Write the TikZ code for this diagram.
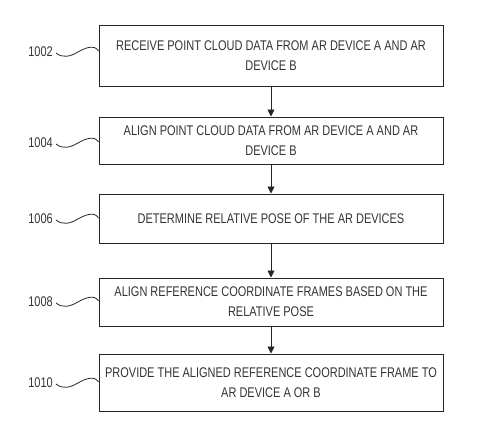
\documentclass[tikz,border=0pt]{standalone}
\usepackage{fontspec}
\setmainfont{Liberation Sans}[FakeStretch=0.785]
\usetikzlibrary{arrows.meta,calc}
\begin{document}
\begin{tikzpicture}[x=1pt,y=1pt,
  stepbox/.style={draw=black!85, line width=1pt, minimum width=344pt, inner sep=0pt, align=center, font=\fontsize{14}{20}\selectfont, text=black!80},
  reflabel/.style={anchor=east, inner sep=1pt, font=\fontsize{14}{16}\selectfont, text=black!80},
  flow/.style={draw=black!85, line width=0.9pt, -{Triangle[length=7pt,width=7pt]}},
  squig/.style={draw=black!85, line width=0.8pt}]
\useasboundingbox (0,0) rectangle (477,-442);
\node[stepbox, minimum height=61pt] (b1) at (271,-55.5) {RECEIVE POINT CLOUD DATA FROM AR DEVICE A AND AR\\DEVICE B};
\node[stepbox, minimum height=47pt] (b2) at (271,-140.5) {ALIGN POINT CLOUD DATA FROM AR DEVICE A AND AR\\DEVICE B};
\node[stepbox, minimum height=49pt] (b3) at (271,-218.5) {DETERMINE RELATIVE POSE OF THE AR DEVICES};
\node[stepbox, minimum height=48pt] (b4) at (271,-302) {ALIGN REFERENCE COORDINATE FRAMES BASED ON THE\\RELATIVE POSE};
\node[stepbox, minimum height=57pt] (b5) at (271,-382.5) {PROVIDE THE ALIGNED REFERENCE COORDINATE FRAME TO\\AR DEVICE A OR B};
\draw[flow] (b1) -- (b2);
\draw[flow] (b2) -- (b3);
\draw[flow] (b3) -- (b4);
\draw[flow] (b4) -- (b5);
\foreach \b/\t/\y in {b1/1002/-52, b2/1004/-143, b3/1006/-219, b4/1008/-302, b5/1010/-383}{
  \node[reflabel] (l\b) at (54,\y) {\t};
  \coordinate (m\b) at (77,\y-0.5);
  \coordinate (e\b) at (\b.west |- 0,\y);
  \draw[squig] ($(l\b.east)+(2,-1)$) to[out=-40,in=210] (m\b) to[out=30,in=120] ($(e\b)+(0,1)$);
}
\end{tikzpicture}
\end{document}
